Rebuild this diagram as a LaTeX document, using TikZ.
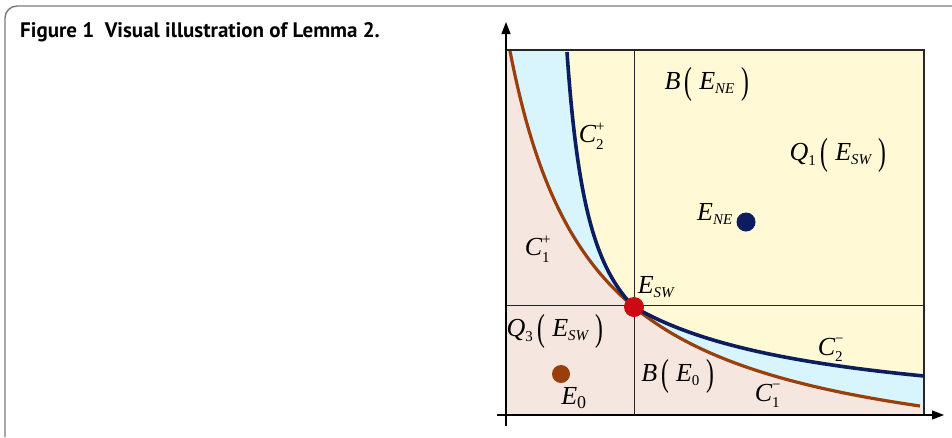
\documentclass[tikz,border=0pt]{standalone}
\usepackage{fontspec}
\usepackage{amsmath}
\usepackage{graphicx}
\usetikzlibrary{arrows.meta}
\newfontfamily\tms{Liberation Serif}
\newfontfamily\ttl{PT Sans}
\DeclareMathSizes{26}{26}{15}{11}
\definecolor{cyel}{HTML}{FFF9D6}
\definecolor{ccyan}{HTML}{D8F4FC}
\definecolor{cpink}{HTML}{F5E7E0}
\definecolor{cbrown}{HTML}{9A3F0C}
\definecolor{cnavy}{HTML}{0B1D5E}
\definecolor{cred}{HTML}{CC0A14}
\definecolor{cframe}{HTML}{7A7A7A}
\newcommand\mi[1]{\text{\tms\itshape #1}}
\newcommand\mr[1]{\text{\tms #1}}
\newcommand\LP{\,\mathopen{\text{\tms\raisebox{-3.5pt}{\scalebox{0.9}[1.45]{(}}}}\;}
\newcommand\RP{\;\mathclose{\text{\tms\raisebox{-3.5pt}{\scalebox{0.9}[1.45]{)}}}}}
\begin{document}
\begin{tikzpicture}[x=1pt,y=-1pt,
  lbl/.style={inner sep=0pt, font=\fontsize{26}{30}\selectfont},
  grid/.style={line width=1pt, draw=black!85},
  ax/.style={line width=1.2pt, -{Triangle[length=12pt,width=9pt]}},
  dot/.style={circle, inner sep=0pt, minimum size=#1}]
\useasboundingbox (0,0) rectangle (952,437);
% frame
\draw[cframe, line width=1.4pt, rounded corners=12pt] (952,6) -- (5,6) -- (5,437);
\node[anchor=base west, inner sep=0pt, font=\ttl\bfseries\fontsize{21}{25}\selectfont] (title) at (20,37) {Figure 1\hspace{0.5em}Visual illustration of Lemma 2.};
% fills
\fill[cyel] (506,50) rectangle (924,415);
\fill[ccyan] (506,50) -- (567,50)
  -- plot[domain=108:363, samples=80] ({543.19 + 8228/(453.61-\x)}, {\x-56})
  -- plot[domain=634:924, samples=80] (\x, {423.85 - 234.99/((\x-432.9)/100)})
  -- (924,415) -- (506,415) -- cycle;
\fill[cpink] (506,50) -- (510,50)
  -- plot[domain=510:920, samples=150] (\x, {477.5 - 352.29/((\x-427.4)/100)})
  -- (924,407) -- (924,415) -- (506,415) -- cycle;
% grid
\draw[grid] (634,50) -- (634,415);
\draw[grid] (506,305) -- (924,305);
\draw[line width=1.2pt, draw=black!85] (506,50) rectangle (924,415);
% curves
\draw[cbrown, line width=3.2pt] plot[domain=510:920, samples=150] (\x, {477.5 - 352.29/((\x-427.4)/100)});
\draw[cnavy, line width=3.6pt, line join=round] plot[domain=108:363, samples=80] ({543.19 + 8228/(453.61-\x)}, {\x-56})
  -- plot[domain=634:924, samples=80] (\x, {423.85 - 234.99/((\x-432.9)/100)});
% axes
\coordinate (yb) at (506,426);
\coordinate (yt) at (506,22);
\coordinate (xl) at (497,415);
\coordinate (xr) at (944,415);
\draw[ax] (yb) -- (yt);
\draw[ax] (xl) -- (xr);
% dots
\node[dot=20pt, fill=cred] (esw) at (634,307) {};
\node[dot=19pt, fill=cnavy] (ene) at (746,222) {};
\node[dot=18pt, fill=cbrown] (e0) at (561,374) {};
% labels
\node[lbl] (bene) at (707,84) {$\mi{B}\LP\mi{E}_{\mi{NE}}\RP$};
\node[lbl] (q1) at (838,155) {$\mi{Q}_{\mr{1}}\LP\mi{E}_{\mi{SW}}\RP$};
\node[lbl] (enel) at (715,214) {$\mi{E}_{\mi{NE}}$};
\node[lbl] (c2p) at (592,136) {$\mi{C}^{\mr{+}}_{\mr{2}}$};
\node[lbl] (c1p) at (538,249) {$\mi{C}^{\mr{+}}_{\mr{1}}$};
\node[lbl] (eswl) at (656,287) {$\mi{E}_{\mi{SW}}$};
\node[lbl] (q3) at (555,331) {$\mi{Q}_{\mr{3}}\LP\mi{E}_{\mi{SW}}\RP$};
\node[lbl] (e0l) at (574,398) {$\mi{E}_{\text{\tms\fontsize{18}{20}\selectfont 0}}$};
\node[lbl] (be0) at (678,376) {$\mi{B}\LP\mi{E}_{\mr{0}}\RP$};
\node[lbl] (c1m) at (768,396) {$\mi{C}^{\mr{−}}_{\mr{1}}$};
\node[lbl] (c2m) at (831,350) {$\mi{C}^{\mr{−}}_{\mr{2}}$};
\end{tikzpicture}
\end{document}
